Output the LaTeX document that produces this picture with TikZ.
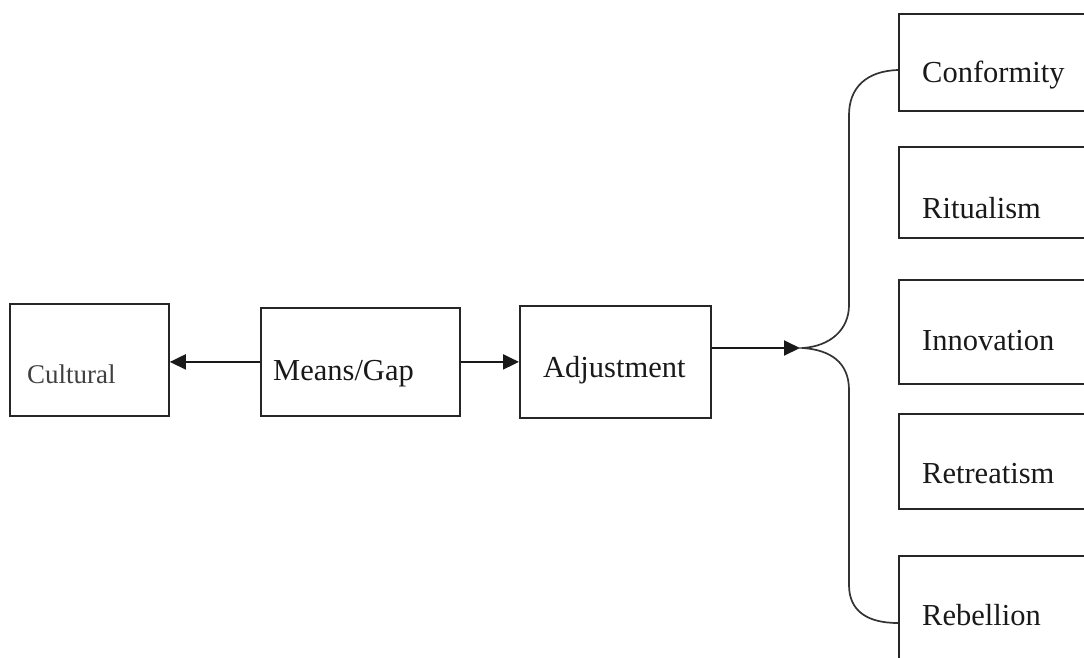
\documentclass[tikz,border=0pt]{standalone}
\usepackage{fontspec}
\setmainfont{Liberation Serif}
\usetikzlibrary{arrows.meta}
\begin{document}
\begin{tikzpicture}[x=1pt,y=-1pt,
  box/.style={draw=black!85,line width=1.8pt,inner sep=0pt,anchor=north west},
  lbl/.style={anchor=base west,inner sep=0pt,font=\fontsize{30.5}{36}\selectfont,text=black!90},
  conn/.style={draw=black!90,line width=2pt,-{Triangle[length=16pt,width=15pt]}},
  brace/.style={draw=black!80,line width=1.7pt}]
\useasboundingbox (0,0) rectangle (1084,657);
\clip (0,0) rectangle (1084,657);
% left chain
\node[box,minimum width=159pt,minimum height=112pt] (cul) at (9,303) {};
\node[box,minimum width=199pt,minimum height=108pt] (mg) at (260,307) {};
\node[box,minimum width=191pt,minimum height=112pt] (adj) at (519,305) {};
\node[lbl,font=\fontsize{27}{32}\selectfont,text=black!75] (tcul) at (27,383) {Cultural};
\node[lbl] (tmg) at (273,380) {Means/Gap};
\node[lbl] (tadj) at (543,377) {Adjustment};
% right boxes
\node[box,minimum width=200pt,minimum height=97pt] (conf) at (898,13) {};
\node[box,minimum width=200pt,minimum height=91pt] (rit) at (898,146) {};
\node[box,minimum width=200pt,minimum height=104pt] (inn) at (898,279) {};
\node[box,minimum width=200pt,minimum height=95pt] (ret) at (898,413) {};
\node[box,minimum width=200pt,minimum height=130pt] (reb) at (898,555) {};
\node[lbl] (tconf) at (922,82) {Conformity};
\node[lbl] (trit) at (922,218) {Ritualism};
\node[lbl] (tinn) at (922,350) {Innovation};
\node[lbl] (tret) at (922,483) {Retreatism};
\node[lbl] (treb) at (922,625) {Rebellion};
% connectors
\coordinate (tip) at (803,348);
\draw[conn] (mg.west) -- (mg.west -| cul.east);
\draw[conn] (mg.east) -- (mg.east -| adj.west);
\draw[conn,shorten >=3pt] (adj.east |- tip) -- (tip);
% brace
\coordinate (btop) at (898,70);
\coordinate (bbot) at (898,623);
\draw[brace] (btop) .. controls (866,71) and (849,88) .. (849,115)
  -- (849,305) .. controls (849,330) and (830,346) .. (tip)
  .. controls (830,350) and (849,362) .. (849,390)
  -- (849,585) .. controls (849,610) and (866,623) .. (bbot);
\end{tikzpicture}
\end{document}
